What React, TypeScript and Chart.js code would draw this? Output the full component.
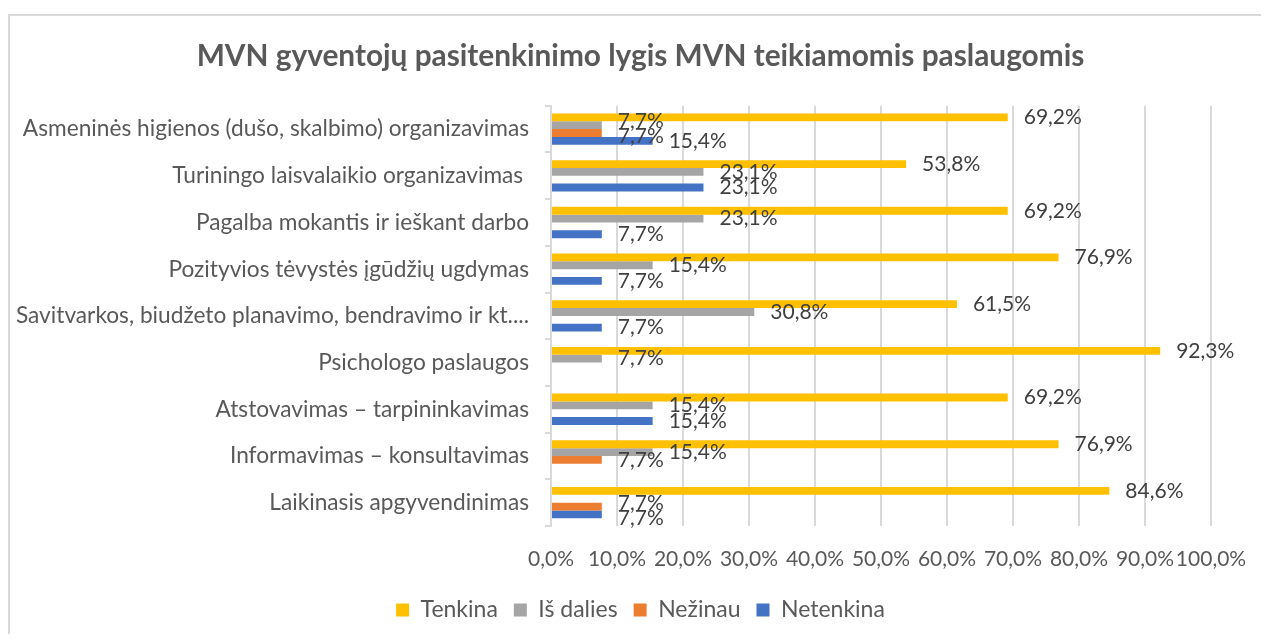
import React, { useEffect, useRef } from 'react';
import { Chart, registerables } from 'chart.js';

Chart.register(...registerables);

const categories = [
  'Asmeninės higienos (dušo, skalbimo) organizavimas',
  'Turiningo laisvalaikio organizavimas ',
  'Pagalba mokantis ir ieškant darbo',
  'Pozityvios tėvystės įgūdžių ugdymas',
  'Savitvarkos, biudžeto planavimo, bendravimo ir kt....',
  'Psichologo paslaugos',
  'Atstovavimas – tarpininkavimas',
  'Informavimas – konsultavimas',
  'Laikinasis apgyvendinimas',
];

const tenkina = [69.2, 53.8, 69.2, 76.9, 61.5, 92.3, 69.2, 76.9, 84.6];
const isDalies = [7.7, 23.1, 23.1, 15.4, 30.8, 7.7, 15.4, 15.4, null];
const nezinau = [7.7, null, null, null, null, null, null, 7.7, 7.7];
const netenkina = [15.4, 23.1, 7.7, 7.7, 7.7, null, 15.4, null, 7.7];

const seriesNames = ['Tenkina', 'Iš dalies', 'Nežinau', 'Netenkina'];
const seriesColors = ['#FFC000', '#A5A5A5', '#ED7D31', '#4472C4'];

const xMin = 0;
const xMax = 100;
const xStep = 10;

const title = 'MVN gyventojų pasitenkinimo lygis MVN teikiamomis paslaugomis';

const FONT = 'Lato, "Open Sans", sans-serif';
const LABEL_SIZE = 21;

const fmt = (v: number) => v.toFixed(1).replace('.', ',') + '%';

const barLabels = {
  id: 'barLabels',
  afterDatasetsDraw(chart: any) {
    const ctx = chart.ctx;
    ctx.save();
    ctx.font = `${LABEL_SIZE}px ${FONT}`;
    ctx.fillStyle = '#404040';
    ctx.textBaseline = 'middle';
    ctx.textAlign = 'left';
    const n = chart.data.labels.length;
    const MIN_GAP = 15;
    for (let i = 0; i < n; i++) {
      const items: any[] = [];
      chart.data.datasets.forEach((ds: any, di: number) => {
        const v = ds.data[i];
        if (v == null) return;
        const el = chart.getDatasetMeta(di).data[i];
        const text = fmt(v);
        const w = ctx.measureText(text).width;
        items.push({ x: el.x + 16, y: el.y, w, text });
      });
      for (let it = 0; it < 8; it++) {
        for (let a = 0; a < items.length; a++) {
          for (let b = a + 1; b < items.length; b++) {
            const A = items[a];
            const B = items[b];
            const hOverlap = A.x < B.x + B.w && B.x < A.x + A.w;
            const d = B.y - A.y;
            if (hOverlap && Math.abs(d) < MIN_GAP) {
              const push = (MIN_GAP - Math.abs(d)) / 2;
              const s = d >= 0 ? 1 : -1;
              A.y -= push * s;
              B.y += push * s;
            }
          }
        }
      }
      items.forEach((p) => ctx.fillText(p.text, p.x, p.y));
    }
    ctx.restore();
  },
};

export default function App() {
  const ref = useRef<HTMLCanvasElement | null>(null);

  useEffect(() => {
    if (!ref.current) return;
    const values = [tenkina, isDalies, nezinau, netenkina];
    const chart = new Chart(ref.current, {
      type: 'bar',
      data: {
        labels: categories,
        datasets: values.map((d, i) => ({
          label: seriesNames[i],
          data: d,
          backgroundColor: seriesColors[i],
          borderWidth: 0,
          categoryPercentage: 0.67,
          barPercentage: 1,
        })),
      },
      options: {
        indexAxis: 'y',
        animation: false,
        responsive: false,
        layout: { padding: { left: 0, right: 0, top: 0, bottom: 2.5 } },
        scales: {
          x: {
            min: xMin,
            max: xMax,
            ticks: {
              stepSize: xStep,
              callback: (v: any) => fmt(Number(v)),
              color: '#595959',
              font: { family: FONT, size: LABEL_SIZE },
              padding: 21,
              maxRotation: 0,
              autoSkip: false,
            },
            grid: { color: '#D9D9D9', lineWidth: 2, drawTicks: false },
            border: { display: false },
            afterFit: (scale: any) => {
              scale.height = 56.5;
              scale.paddingRight = 62;
            },
          },
          y: {
            ticks: {
              color: '#595959',
              font: { family: FONT, size: 22.7 },
              padding: 16,
              autoSkip: false,
            },
            grid: {
              drawOnChartArea: false,
              drawTicks: true,
              tickLength: 6,
              color: '#D9D9D9',
              lineWidth: 2,
            },
            border: { display: true, color: '#D9D9D9', width: 2 },
            afterFit: (scale: any) => {
              scale.width = 543;
            },
          },
        },
        plugins: {
          title: {
            display: true,
            text: title,
            color: '#595959',
            font: { family: FONT, size: 29.8, weight: 'bold' },
            padding: { top: 31, bottom: 31 },
          },
          legend: {
            position: 'bottom',
            labels: {
              boxWidth: 13,
              boxHeight: 13,
              color: '#595959',
              font: { family: FONT, size: 23 },
              padding: 16,
            },
          },
          tooltip: { enabled: false },
        },
      },
      plugins: [barLabels],
    });
    return () => chart.destroy();
  }, []);

  return (
    <div style={{ position: 'relative', width: 1253, height: 626, overflow: 'hidden' }}>
      <div
        style={{
          position: 'absolute',
          left: 0,
          top: 6,
          right: 0,
          bottom: 0,
          borderTop: '2px solid #D9D9D9',
          borderLeft: '2px solid #D9D9D9',
        }}
      />
      <canvas ref={ref} width={1265} height={626} style={{ position: 'absolute', left: 0, top: 0 }} />
    </div>
  );
}
